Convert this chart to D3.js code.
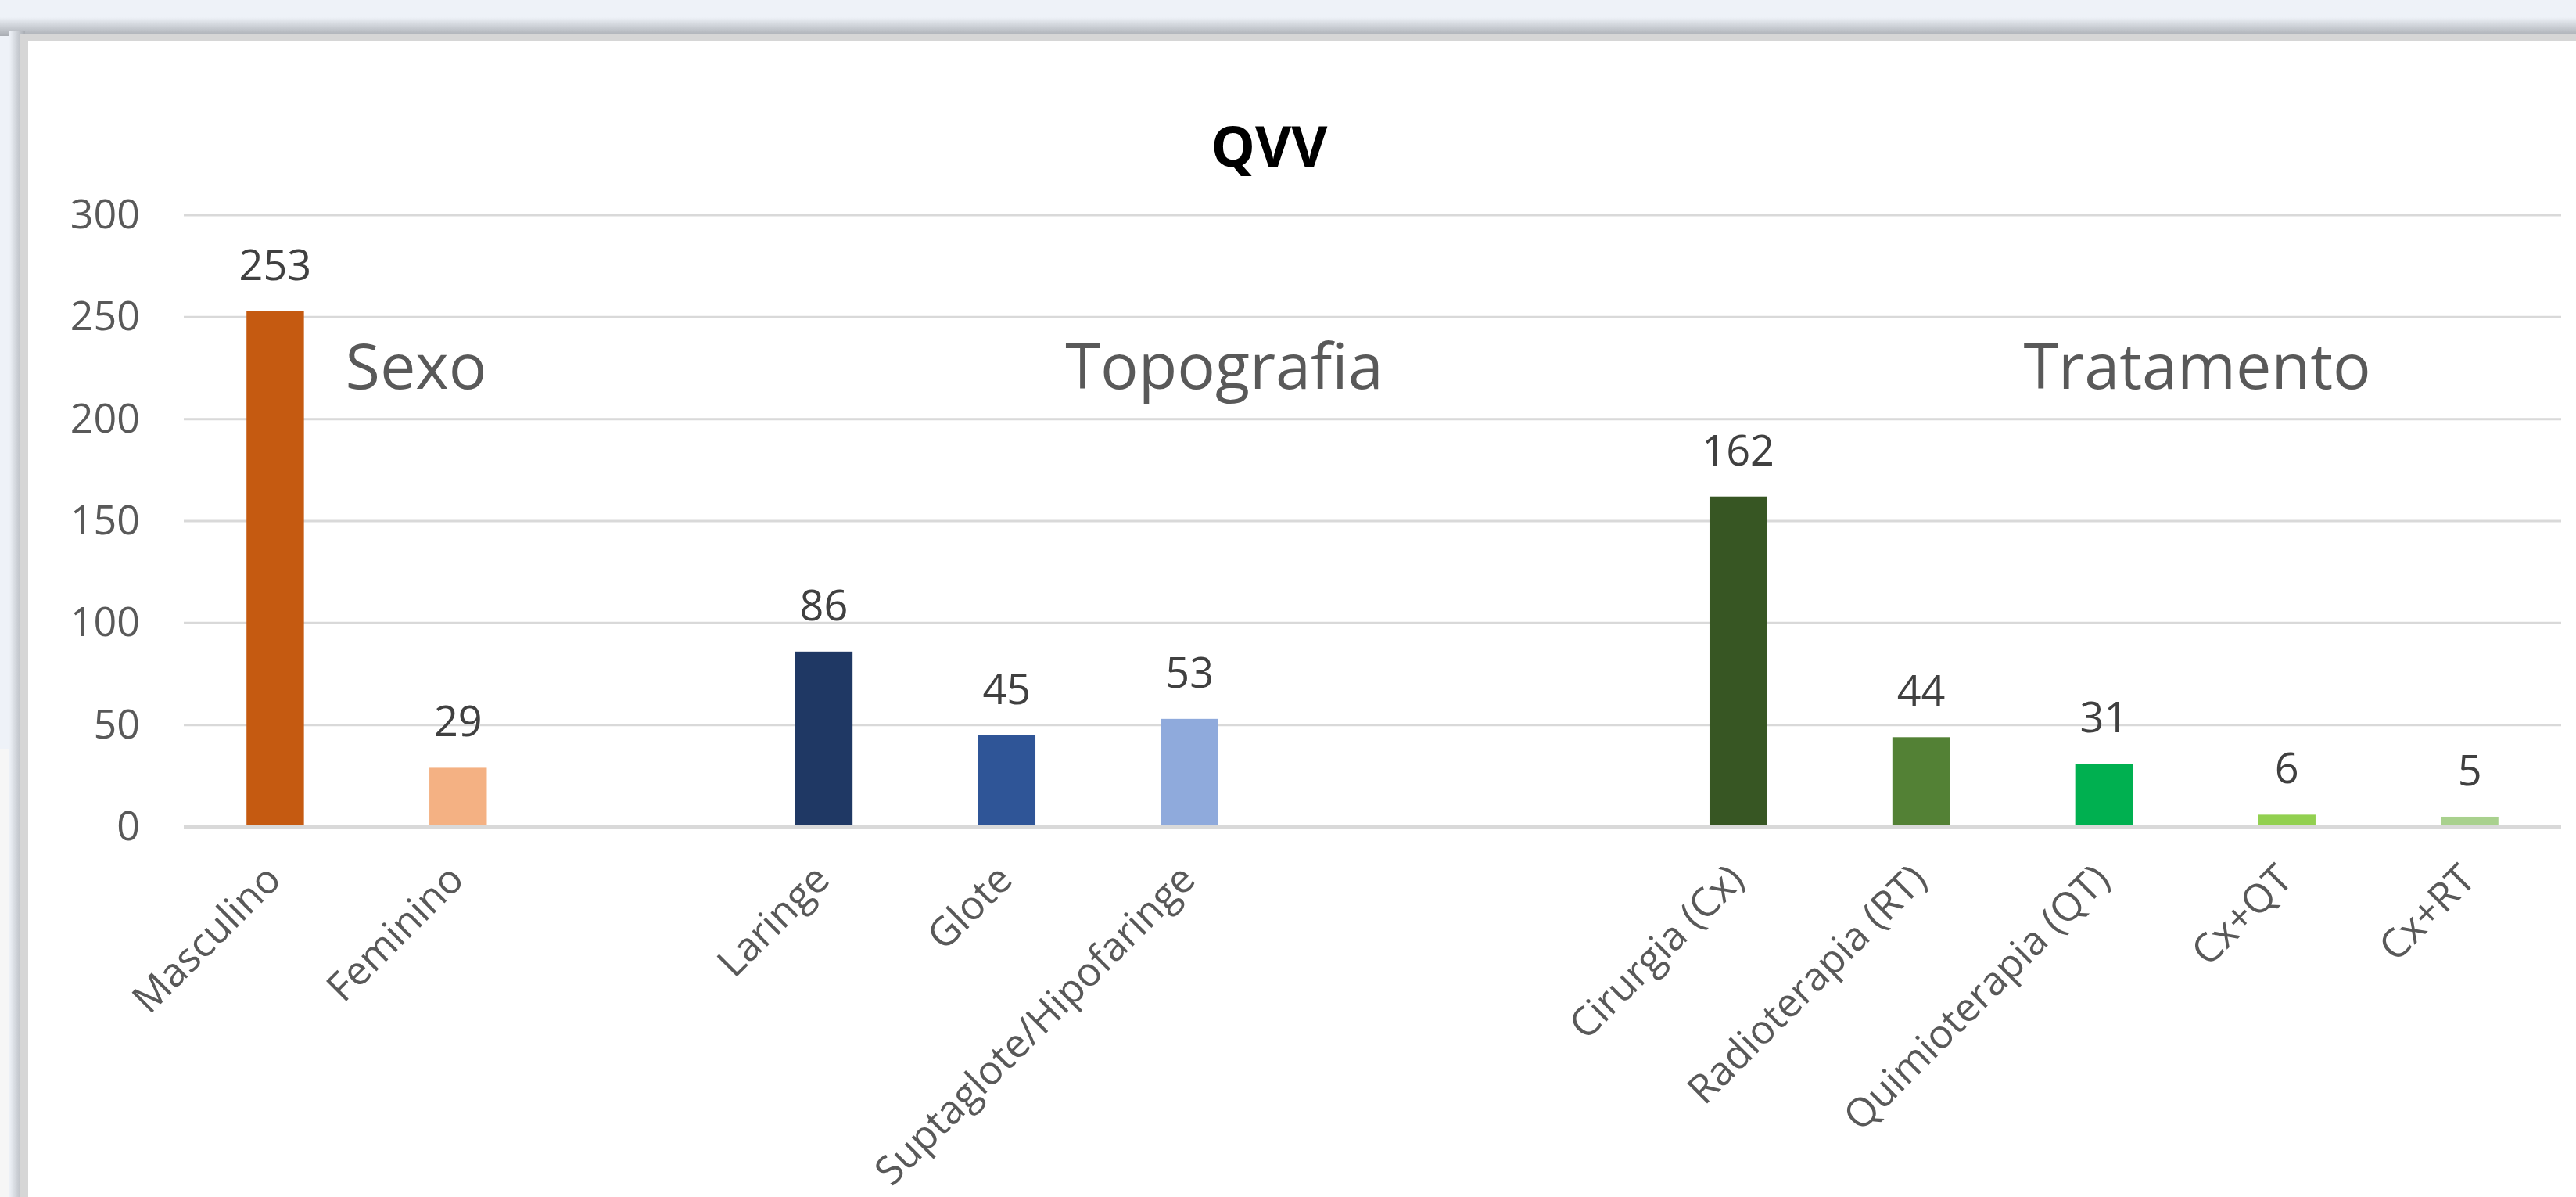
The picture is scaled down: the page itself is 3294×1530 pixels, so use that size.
<!DOCTYPE html>
<html>
<head>
<meta charset="utf-8">
<script src="https://cdn.jsdelivr.net/npm/d3@7"></script>
<style>
  html, body { margin: 0; padding: 0; background: #eef2f8; overflow: hidden; }
  svg { display: block; }
</style>
</head>
<body>
<svg id="chart" width="3294" height="1530"></svg>
<script>
// data
var title = 'QVV';
var categories = ['Masculino', 'Feminino', '', 'Laringe', 'Glote', 'Suptaglote/Hipofaringe', '', '',
                  'Cirurgia (Cx)', 'Radioterapia (RT)', 'Quimioterapia (QT)', 'Cx+QT', 'Cx+RT'];
var values = [253, 29, null, 86, 45, 53, null, null, 162, 44, 31, 6, 5];
var barColors = ['#c55a11', '#f4b183', null, '#1f3864', '#2f5597', '#8faadc', null, null,
                 '#375623', '#538135', '#00b050', '#92d050', '#a9d18e'];
var yTicks = [0, 50, 100, 150, 200, 250, 300];
var groupLabels = ['Sexo', 'Topografia', 'Tratamento'];
var groupSlot = [0.77, 5.19, 10.51]; // where the text boxes sit, in category slots

var W = 3294, H = 1530;
var left = 235, right = 3275, y0 = 1057, yTop = 275;
var font = '"Open Sans", "Noto Sans", sans-serif';

var svg = d3.select('#chart');

// page background + card with its shadow
var defs = svg.append('defs');
var grad = defs.append('linearGradient').attr('id', 'topShade').attr('x1', 0).attr('y1', 0).attr('x2', 0).attr('y2', 1);
grad.append('stop').attr('offset', '0%').attr('stop-color', '#eef2f8');
grad.append('stop').attr('offset', '100%').attr('stop-color', '#a9adb3');
var gradL = defs.append('linearGradient').attr('id', 'leftShade').attr('x1', 0).attr('y1', 0).attr('x2', 1).attr('y2', 0);
gradL.append('stop').attr('offset', '0%').attr('stop-color', '#eef2f8');
gradL.append('stop').attr('offset', '100%').attr('stop-color', '#a9adb3');

svg.append('rect').attr('x', 0).attr('y', 0).attr('width', W).attr('height', H).attr('fill', '#eef2f8');
svg.append('rect').attr('x', 0).attr('y', 957).attr('width', 30).attr('height', H - 957).attr('fill', '#f6f6f6');
svg.append('rect').attr('x', 0).attr('y', 22).attr('width', W).attr('height', 24).attr('fill', 'url(#topShade)');
svg.append('rect').attr('x', 12).attr('y', 40).attr('width', 20).attr('height', H).attr('fill', 'url(#leftShade)');
svg.append('rect').attr('x', 26).attr('y', 44).attr('width', W).attr('height', H).attr('fill', '#d6d6d6');
svg.append('rect').attr('x', 36).attr('y', 52).attr('width', W).attr('height', H).attr('fill', '#ffffff');

var x = d3.scaleBand()
    .domain(d3.range(categories.length))
    .range([left, right])
    .paddingInner(0.686)
    .paddingOuter(0.343);

var y = d3.scaleLinear().domain([0, 300]).range([y0, yTop]);

// gridlines
svg.append('g')
    .selectAll('line')
    .data(yTicks.slice(1))
    .join('line')
    .attr('x1', left).attr('x2', right)
    .attr('y1', d => y(d)).attr('y2', d => y(d))
    .attr('stroke', '#d9d9d9')
    .attr('stroke-width', 3);

// y axis labels
var yAxis = d3.axisLeft(y).tickValues(yTicks).tickSize(0).tickPadding(0);
var gy = svg.append('g').attr('transform', 'translate(179,0)').call(yAxis);
gy.select('.domain').remove();
gy.selectAll('text')
    .attr('font-family', font)
    .attr('font-size', 52)
    .attr('fill', '#595959');

// bars
var bars = categories.map((c, i) => ({ i: i, name: c, v: values[i], color: barColors[i] }))
    .filter(d => d.v !== null);

svg.append('g')
    .selectAll('rect')
    .data(bars)
    .join('rect')
    .attr('x', d => x(d.i))
    .attr('width', x.bandwidth())
    .attr('y', d => y(d.v))
    .attr('height', d => y(0) - y(d.v))
    .attr('fill', d => d.color);

// x axis line
svg.append('line')
    .attr('x1', left).attr('x2', right)
    .attr('y1', y0).attr('y2', y0)
    .attr('stroke', '#d9d9d9')
    .attr('stroke-width', 4);

// value labels
svg.append('g')
    .selectAll('text')
    .data(bars)
    .join('text')
    .attr('x', d => x(d.i) + x.bandwidth() / 2)
    .attr('y', d => y(d.v) - 40)
    .attr('text-anchor', 'middle')
    .attr('font-family', font)
    .attr('font-size', 54)
    .attr('fill', '#404040')
    .text(d => d.v);

// rotated category labels
svg.append('g')
    .selectAll('text')
    .data(categories.map((c, i) => ({ i: i, name: c })).filter(d => d.name !== ''))
    .join('text')
    .attr('transform', d => 'translate(' + (x(d.i) + x.bandwidth() / 2 - 16) + ',' + (y0 + 44) + ') rotate(-45)')
    .attr('dy', '0.72em')
    .attr('text-anchor', 'end')
    .attr('font-family', font)
    .attr('font-size', 51)
    .attr('fill', '#595959')
    .text(d => d.name);

// group captions
var step = x.step();
svg.append('g')
    .selectAll('text')
    .data(groupLabels)
    .join('text')
    .attr('x', (d, i) => left + step * (groupSlot[i] + 0.5))
    .attr('y', 497)
    .attr('text-anchor', 'middle')
    .attr('font-family', font)
    .attr('font-size', 81)
    .attr('fill', '#595959')
    .text(d => d);

// title
svg.append('text')
    .attr('x', 1623)
    .attr('y', 213)
    .attr('text-anchor', 'middle')
    .attr('font-family', font)
    .attr('font-weight', 'bold')
    .attr('font-size', 71)
    .attr('fill', '#000000')
    .text(title);
</script>
</body>
</html>
